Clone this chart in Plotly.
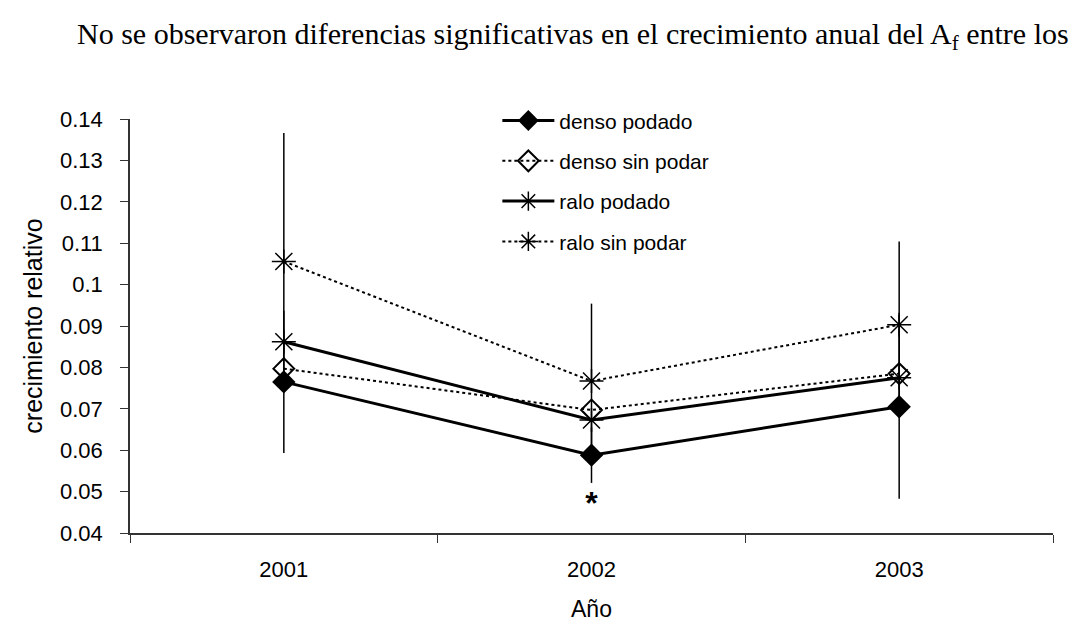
import plotly.graph_objects as go

# years on the x axis
years = ['2001', '2002', '2003']

# mean relative growth for each treatment
denso_podado = [0.0765, 0.0588, 0.0705]
denso_sin_podar = [0.0797, 0.0697, 0.0785]
ralo_podado = [0.0862, 0.0673, 0.0775]
ralo_sin_podar = [0.1056, 0.0767, 0.0903]

# error bar half widths (only two series show bars)
err_denso_podado = [0.0172, 0.0067, 0.0222]
err_ralo_sin_podar = [0.0310, 0.0187, 0.0201]

# significance mark
mark_year = ['2002']
mark_y = [0.0465]

fig = go.Figure()

# series with error bars
fig.add_trace(go.Scatter(x=years, y=ralo_sin_podar, mode='lines+markers', name='ralo sin podar',
                         legendgroup='d', legendrank=4,
                         line=dict(color='black', width=2, dash='3px,3px'),
                         marker=dict(symbol='asterisk-open', size=20, line=dict(color='black', width=1.5)),
                         error_y=dict(type='data', array=err_ralo_sin_podar, color='black', thickness=1.5, width=0)))
fig.add_trace(go.Scatter(x=years, y=denso_podado, mode='lines+markers', name='denso podado',
                         legendgroup='a', legendrank=1,
                         line=dict(color='black', width=3),
                         marker=dict(symbol='diamond', size=18, color='black'),
                         error_y=dict(type='data', array=err_denso_podado, color='black', thickness=1.5, width=0)))
fig.add_trace(go.Scatter(x=years, y=denso_sin_podar, mode='lines+markers', name='denso sin podar',
                         legendgroup='b', legendrank=2,
                         line=dict(color='black', width=2, dash='3px,3px'),
                         marker=dict(symbol='diamond-open', size=16, color='black', line=dict(color='black', width=2))))
fig.add_trace(go.Scatter(x=years, y=ralo_podado, mode='lines+markers', name='ralo podado',
                         legendgroup='c', legendrank=3,
                         line=dict(color='black', width=3),
                         marker=dict(symbol='asterisk-open', size=20, line=dict(color='black', width=1.5))))

# the asterisk under 2002
fig.add_trace(go.Scatter(x=mark_year, y=mark_y, mode='text', text=['<b>*</b>'], showlegend=False,
                         textposition='middle center', hoverinfo='skip',
                         textfont=dict(family='Liberation Sans', size=32, color='black')))

# line of text from the page above the chart
fig.add_annotation(xref='paper', yref='paper', x=-0.06, y=1.2, xanchor='left', yanchor='middle',
                   text='No se observaron diferencias significativas en el crecimiento anual del A<sub>f</sub> entre los',
                   showarrow=False, font=dict(family='Liberation Serif', size=30, color='black'))

fig.update_layout(
    width=1091, height=622,
    margin=dict(l=122, r=46, t=111, b=95),
    paper_bgcolor='white', plot_bgcolor='white',
    font=dict(family='Liberation Sans', size=20, color='black'),
    showlegend=True,
    legend=dict(x=0.398, y=1.045, xanchor='left', yanchor='top', bgcolor='rgba(0,0,0,0)',
                itemwidth=52, tracegroupgap=10, font=dict(size=21), traceorder='grouped'),
    xaxis=dict(type='category', range=[-0.5, 2.5], showgrid=False, showline=True, linecolor='#333', linewidth=1.5,
               ticks='outside', tickson='boundaries', ticklen=8, tickcolor='#333',
               tickfont=dict(size=22), ticklabelstandoff=16,
               title=dict(text='Año', standoff=20, font=dict(size=23))),
    yaxis=dict(range=[0.04, 0.14], dtick=0.01, showgrid=False, showline=True, linecolor='#333', linewidth=1.5,
               ticks='outside', ticklen=8, tickcolor='#333', zeroline=False,
               tickfont=dict(size=22), ticklabelstandoff=13,
               title=dict(text='crecimiento relativo', standoff=10, font=dict(size=25))),
)

fig.write_html("out.html")
